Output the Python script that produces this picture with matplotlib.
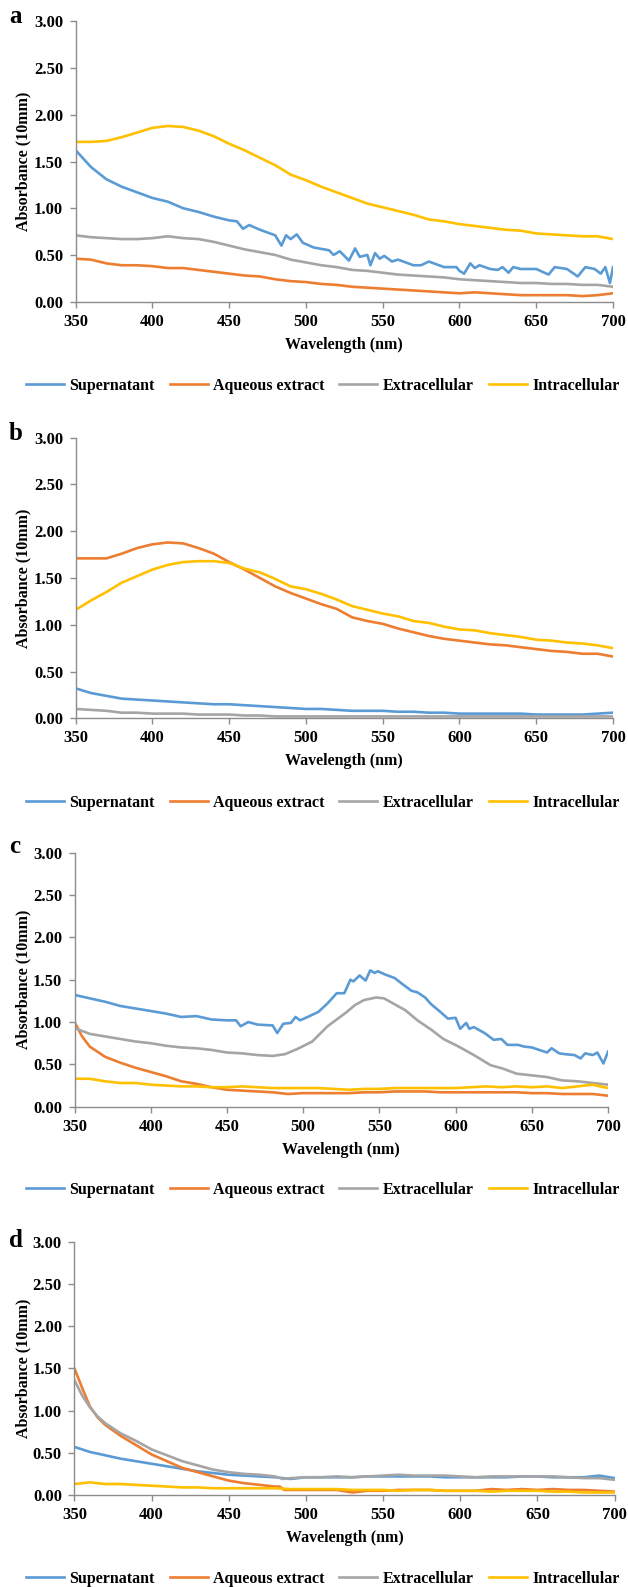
import matplotlib
matplotlib.use("Agg")
import matplotlib.pyplot as plt
from matplotlib.ticker import FormatStrFormatter

plt.rcParams['font.family'] = ['Liberation Serif', 'DejaVu Serif']
plt.rcParams['font.weight'] = 'bold'
plt.rcParams['axes.labelweight'] = 'bold'

# series names and colours (Excel defaults)
names = ["Supernatant", "Aqueous extract", "Extracellular", "Intracellular"]
colors = ["#5B9BD5", "#ED7D31", "#A5A5A5", "#FFC000"]

# common 10 nm wavelength grid
wl = [350, 360, 370, 380, 390, 400, 410, 420, 430, 440, 450, 460, 470, 480, 490, 500, 510, 520,
      530, 540, 550, 560, 570, 580, 590, 600, 610, 620, 630, 640, 650, 660, 670, 680, 690, 700]

# ---- panel a ----
sup_a_x = [350, 355, 360, 370, 380, 390, 400, 410, 420, 425, 430, 440, 450, 455, 459, 463, 470, 480, 484, 487,
           490, 494, 498, 505, 515, 518, 522, 528, 532, 535, 540, 542, 545, 548, 551, 556, 560, 570, 575, 580,
           590, 598, 600, 603, 607, 610, 613, 620, 625, 628, 632, 635, 640, 650, 658, 662, 670, 677, 682, 688,
           692, 695, 698, 700]
sup_a = [1.62, 1.53, 1.44, 1.31, 1.23, 1.17, 1.11, 1.07, 1.00, 0.98, 0.96, 0.91, 0.87, 0.86, 0.78, 0.82, 0.77, 0.71, 0.60, 0.71,
         0.67, 0.72, 0.63, 0.58, 0.55, 0.50, 0.54, 0.44, 0.57, 0.48, 0.50, 0.39, 0.52, 0.46, 0.49, 0.43, 0.45, 0.39, 0.39, 0.43,
         0.37, 0.37, 0.33, 0.30, 0.41, 0.36, 0.39, 0.35, 0.34, 0.37, 0.31, 0.37, 0.35, 0.35, 0.29, 0.37, 0.35, 0.27, 0.37, 0.35,
         0.30, 0.37, 0.20, 0.37]
aq_a = [0.46, 0.45, 0.41, 0.39, 0.39, 0.38, 0.36, 0.36, 0.34, 0.32, 0.30, 0.28, 0.27, 0.24, 0.22, 0.21, 0.19, 0.18,
        0.16, 0.15, 0.14, 0.13, 0.12, 0.11, 0.10, 0.09, 0.10, 0.09, 0.08, 0.07, 0.07, 0.07, 0.07, 0.06, 0.07, 0.09]
ext_a = [0.71, 0.69, 0.68, 0.67, 0.67, 0.68, 0.70, 0.68, 0.67, 0.64, 0.60, 0.56, 0.53, 0.50, 0.45, 0.42, 0.39, 0.37,
         0.34, 0.33, 0.31, 0.29, 0.28, 0.27, 0.26, 0.24, 0.23, 0.22, 0.21, 0.20, 0.20, 0.19, 0.19, 0.18, 0.18, 0.16]
int_a = [1.71, 1.71, 1.72, 1.76, 1.81, 1.86, 1.88, 1.87, 1.83, 1.77, 1.69, 1.62, 1.54, 1.46, 1.36, 1.30, 1.23, 1.17,
         1.11, 1.05, 1.01, 0.97, 0.93, 0.88, 0.86, 0.83, 0.81, 0.79, 0.77, 0.76, 0.73, 0.72, 0.71, 0.70, 0.70, 0.67]

# ---- panel b ----
sup_b = [0.32, 0.27, 0.24, 0.21, 0.20, 0.19, 0.18, 0.17, 0.16, 0.15, 0.15, 0.14, 0.13, 0.12, 0.11, 0.10, 0.10, 0.09,
         0.08, 0.08, 0.08, 0.07, 0.07, 0.06, 0.06, 0.05, 0.05, 0.05, 0.05, 0.05, 0.04, 0.04, 0.04, 0.04, 0.05, 0.06]
aq_b = [1.71, 1.71, 1.71, 1.76, 1.82, 1.86, 1.88, 1.87, 1.82, 1.76, 1.67, 1.59, 1.50, 1.41, 1.34, 1.28, 1.22, 1.17,
        1.08, 1.04, 1.01, 0.96, 0.92, 0.88, 0.85, 0.83, 0.81, 0.79, 0.78, 0.76, 0.74, 0.72, 0.71, 0.69, 0.69, 0.66]
ext_b = [0.10, 0.09, 0.08, 0.06, 0.06, 0.05, 0.05, 0.05, 0.04, 0.04, 0.04, 0.03, 0.03, 0.02, 0.02, 0.02, 0.02, 0.02,
         0.02, 0.02, 0.02, 0.02, 0.02, 0.02, 0.02, 0.02, 0.02, 0.02, 0.02, 0.02, 0.02, 0.02, 0.02, 0.02, 0.02, 0.02]
int_b = [1.16, 1.26, 1.35, 1.45, 1.52, 1.59, 1.64, 1.67, 1.68, 1.68, 1.66, 1.60, 1.56, 1.49, 1.41, 1.38, 1.33, 1.27,
         1.20, 1.16, 1.12, 1.09, 1.04, 1.02, 0.98, 0.95, 0.94, 0.91, 0.89, 0.87, 0.84, 0.83, 0.81, 0.80, 0.78, 0.75]

# ---- panel c ----
sup_c_x = [350, 360, 370, 380, 390, 400, 410, 420, 430, 440, 450, 456, 459, 464, 470, 480, 483, 487, 492, 495,
           498, 503, 510, 516, 522, 527, 531, 533, 537, 541, 544, 547, 549, 554, 560, 565, 571, 575, 580, 584,
           590, 595, 600, 603, 607, 609, 612, 619, 625, 630, 634, 641, 645, 650, 655, 660, 663, 668, 672, 678,
           682, 685, 690, 693, 697, 700]
sup_c = [1.32, 1.28, 1.24, 1.19, 1.16, 1.13, 1.10, 1.06, 1.07, 1.03, 1.02, 1.02, 0.95, 1.00, 0.97, 0.96, 0.87, 0.98, 0.99, 1.06,
         1.02, 1.06, 1.12, 1.22, 1.34, 1.34, 1.50, 1.48, 1.55, 1.49, 1.61, 1.58, 1.60, 1.56, 1.52, 1.45, 1.37, 1.35, 1.29, 1.21,
         1.12, 1.04, 1.05, 0.92, 0.99, 0.92, 0.94, 0.87, 0.79, 0.80, 0.73, 0.73, 0.71, 0.70, 0.67, 0.64, 0.69, 0.63, 0.62, 0.61,
         0.57, 0.63, 0.61, 0.64, 0.51, 0.65]
aq_c_x = [350, 355, 360, 370, 380, 390, 400, 410, 420, 430, 440, 450, 460, 470, 480, 490, 500, 510, 520, 530,
          540, 550, 560, 570, 580, 590, 600, 610, 620, 630, 640, 650, 660, 670, 680, 690, 700]
aq_c = [1.00, 0.83, 0.71, 0.59, 0.52, 0.46, 0.41, 0.36, 0.30, 0.27, 0.23, 0.20, 0.19, 0.18, 0.17, 0.15, 0.16, 0.16, 0.16, 0.16,
        0.17, 0.17, 0.18, 0.18, 0.18, 0.17, 0.17, 0.17, 0.17, 0.17, 0.17, 0.16, 0.16, 0.15, 0.15, 0.15, 0.13]
ext_c_x = [350, 360, 370, 380, 390, 400, 410, 420, 430, 440, 450, 460, 470, 480, 488, 496, 506, 516, 528, 534,
           540, 548, 553, 559, 567, 575, 584, 592, 602, 612, 623, 631, 640, 650, 660, 670, 680, 690, 700]
ext_c = [0.93, 0.86, 0.83, 0.80, 0.77, 0.75, 0.72, 0.70, 0.69, 0.67, 0.64, 0.63, 0.61, 0.60, 0.62, 0.68, 0.77, 0.95, 1.11, 1.20,
         1.26, 1.29, 1.28, 1.22, 1.14, 1.02, 0.91, 0.80, 0.71, 0.61, 0.49, 0.45, 0.39, 0.37, 0.35, 0.31, 0.30, 0.28, 0.26]
int_c = [0.33, 0.33, 0.30, 0.28, 0.28, 0.26, 0.25, 0.24, 0.24, 0.23, 0.23, 0.24, 0.23, 0.22, 0.22, 0.22, 0.22, 0.21,
         0.20, 0.21, 0.21, 0.22, 0.22, 0.22, 0.22, 0.22, 0.23, 0.24, 0.23, 0.24, 0.23, 0.24, 0.22, 0.24, 0.26, 0.22]

# ---- panel d ----
sup_d = [0.57, 0.51, 0.47, 0.43, 0.40, 0.37, 0.34, 0.31, 0.28, 0.26, 0.24, 0.23, 0.22, 0.21, 0.19, 0.21, 0.21, 0.21,
         0.21, 0.22, 0.22, 0.22, 0.22, 0.22, 0.21, 0.21, 0.21, 0.21, 0.21, 0.22, 0.22, 0.21, 0.21, 0.21, 0.23, 0.20]
aq_d_x = [350, 355, 360, 365, 370, 380, 390, 400, 410, 420, 430, 440, 450, 460, 470, 480, 483, 486, 490, 500,
          510, 520, 530, 540, 550, 560, 570, 580, 590, 600, 610, 620, 630, 640, 650, 660, 670, 680, 690, 700]
aq_d = [1.50, 1.27, 1.05, 0.92, 0.83, 0.70, 0.59, 0.48, 0.40, 0.32, 0.27, 0.22, 0.17, 0.14, 0.12, 0.10, 0.10, 0.06, 0.06, 0.06,
        0.06, 0.06, 0.03, 0.05, 0.05, 0.06, 0.06, 0.06, 0.05, 0.05, 0.05, 0.07, 0.06, 0.07, 0.06, 0.07, 0.06, 0.06, 0.05, 0.04]
ext_d_x = [350, 355, 360, 365, 370, 380, 390, 400, 410, 420, 430, 440, 450, 460, 470, 480, 485, 490, 500, 510,
           520, 530, 540, 550, 560, 570, 580, 590, 600, 610, 620, 630, 640, 650, 660, 670, 680, 690, 700]
ext_d = [1.36, 1.18, 1.04, 0.93, 0.85, 0.73, 0.64, 0.54, 0.47, 0.40, 0.35, 0.30, 0.27, 0.25, 0.24, 0.22, 0.19, 0.20, 0.21, 0.21,
         0.22, 0.21, 0.22, 0.23, 0.24, 0.23, 0.23, 0.23, 0.22, 0.21, 0.22, 0.22, 0.22, 0.22, 0.22, 0.21, 0.20, 0.20, 0.18]
int_d = [0.13, 0.15, 0.13, 0.13, 0.12, 0.11, 0.10, 0.09, 0.09, 0.08, 0.08, 0.08, 0.08, 0.08, 0.07, 0.07, 0.07, 0.07,
         0.06, 0.06, 0.06, 0.05, 0.06, 0.06, 0.05, 0.05, 0.05, 0.04, 0.05, 0.05, 0.05, 0.04, 0.04, 0.03, 0.03, 0.03]

panels = [
    ("a", [(sup_a_x, sup_a), (wl, aq_a), (wl, ext_a), (wl, int_a)]),
    ("b", [(wl, sup_b), (wl, aq_b), (wl, ext_b), (wl, int_b)]),
    ("c", [(sup_c_x, sup_c), (aq_c_x, aq_c), (ext_c_x, ext_c), (wl, int_c)]),
    ("d", [(wl, sup_d), (aq_d_x, aq_d), (ext_d_x, ext_d), (wl, int_d)]),
]

W, H = 628, 1587
fig = plt.figure(figsize=(W / 100, H / 100), dpi=100)

# pixel boxes: left, right, top, bottom ; legend centre y ; letter baseline
boxes = [(75.7, 613, 21.3, 301.7), (75.7, 613, 437.7, 718.3),
         (74.5, 608, 852.7, 1106.7), (74.4, 614.6, 1241.7, 1495)]
legend_y = [386, 802.7, 1190, 1579]
letter_y = [22.7, 440, 853.3, 1246.7]
axis_col = "#8c8c8c"
fs = 11.5

for (letter, series), (l, r, t, b), ly, tb in zip(panels, boxes, legend_y, letter_y):
    ax = fig.add_axes([l / W, 1 - b / H, (r - l) / W, (b - t) / H])
    handles = []
    for (x, y), name, c in zip(series, names, colors):
        h, = ax.plot(x, y, color=c, lw=1.9, label=name, solid_joinstyle='round')
        handles.append(h)
    ax.set_xlim(350, 700)
    ax.set_ylim(0, 3)
    ax.set_xticks(range(350, 701, 50))
    ax.set_yticks([0, 0.5, 1.0, 1.5, 2.0, 2.5, 3.0])
    ax.yaxis.set_major_formatter(FormatStrFormatter('%.2f'))
    for s in ['top', 'right']:
        ax.spines[s].set_visible(False)
    for s in ['left', 'bottom']:
        ax.spines[s].set_color(axis_col)
        ax.spines[s].set_linewidth(1)
    ax.tick_params(axis='both', direction='out', length=4, width=1, color=axis_col,
                   labelsize=12, labelcolor='black')
    ax.tick_params(axis='y', pad=5)
    ax.tick_params(axis='x', pad=4.5)
    ax.set_ylabel("Absorbance (10mm)", fontsize=fs, ha='center', va='center')
    ax.yaxis.set_label_coords(-(l - 23) / (r - l), 0.5)
    ax.set_xlabel("Wavelength (nm)", fontsize=fs, va='center')
    ax.xaxis.set_label_coords(0.5, -43 / (b - t))

    fig.text(9 / W, 1 - tb / H, letter, fontsize=18, va='baseline', ha='left')

    fig.legend(handles, names, loc='center left', bbox_to_anchor=(26 / W, 1 - ly / H),
               ncol=4, frameon=False, borderpad=0, borderaxespad=0, fontsize=fs,
               handlelength=2.38, handletextpad=0.33, columnspacing=0.94)

fig.savefig("out.png", dpi=100)
